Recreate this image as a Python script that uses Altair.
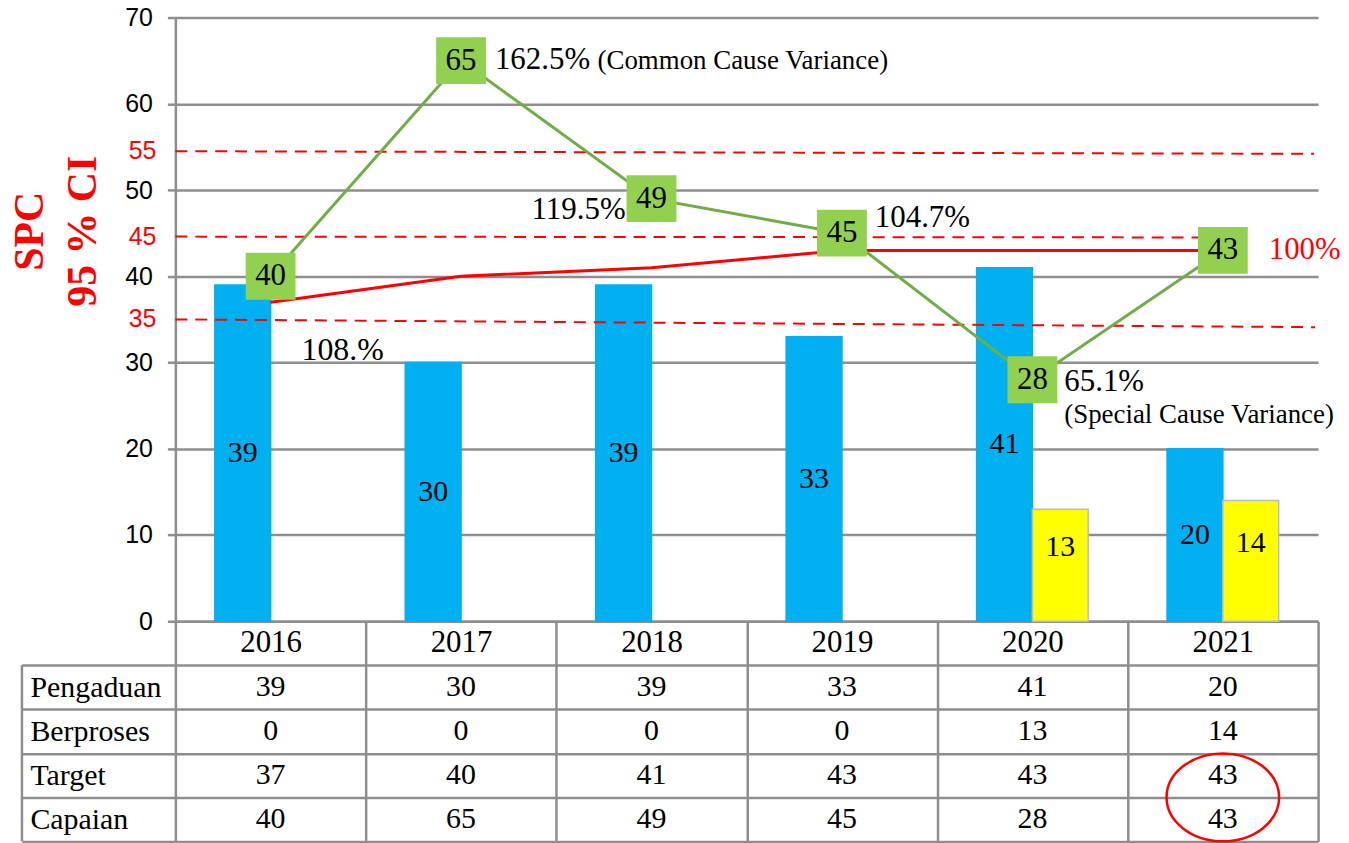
import altair as alt
import pandas as pd

# ---------------- data ----------------
years = ["2016", "2017", "2018", "2019", "2020", "2021"]
pengaduan = [39, 30, 39, 33, 41, 20]
berproses = [0, 0, 0, 0, 13, 14]
target = [37, 40, 41, 43, 43, 43]
capaian = [40, 65, 49, 45, 28, 43]
row_names = ["Pengaduan", "Berproses", "Target", "Capaian"]
pct_labels = ["108.%", "162.5%", "119.5%", "104.7%", "65.1%", "100%"]
note_years = ["2017", "2020"]
note_texts = ["(Common Cause Variance)", "(Special Cause Variance)"]
limit_labels = ["55", "45", "35"]
limit_start = [54.5, 44.6, 35.0]
limit_end = [54.2, 44.5, 34.1]
y_ticks = [0, 10, 20, 30, 40, 50, 60, 70]
circled_year = "2021"
circled_rows = ["Target"]

# ---------------- style ----------------
W, H = 1147, 606
TABLE_H = 177
GRAY = "#8E8E8E"
BLUE = "#00B0F0"
YELLOW = "#FFFF00"
RED = "#FF0000"
GREEN_LINE = "#70AD47"
GREEN_BOX = "#92D050"
SERIF = "Liberation Serif"
SANS = "Liberation Sans"

xscale = alt.Scale(domain=years, paddingInner=0, paddingOuter=0)
yscale = alt.Scale(domain=[0, 70], nice=False, zero=True)

bars_df = pd.DataFrame({
    "year": years * 2,
    "series": ["Pengaduan"] * 6 + ["Berproses"] * 6,
    "value": pengaduan + berproses,
})
bars_df = bars_df[bars_df["value"] > 0]
line_df = pd.DataFrame({"year": years, "target": target, "capaian": capaian,
                        "pct": pct_labels})
limits_df = pd.DataFrame({"label": limit_labels, "start": limit_start, "end": limit_end})
notes_df = pd.DataFrame({"year": note_years, "note": note_texts})
notes_df = notes_df.merge(line_df[["year", "capaian"]], on="year")

xoff = alt.XOffset("series:N", scale=alt.Scale(domain=["Pengaduan", "Berproses"],
                                               paddingInner=0, paddingOuter=0.707))

x_main = alt.X("year:N", scale=xscale, sort=years, axis=alt.Axis(
    title=None, labelAngle=0, labelFont=SERIF, labelFontSize=31, labelColor="black",
    labelBaseline="middle", labelPadding=-23, tickBand="extent", tickSize=44,
    tickColor=GRAY, tickWidth=2.5, domainColor=GRAY, domainWidth=2.5, grid=False))
x_plain = alt.X("year:N", scale=xscale, sort=years)


def yq(field):
    return alt.Y(field, scale=yscale)


bars = alt.Chart(bars_df).mark_bar(strokeWidth=1.5).encode(
    x=x_main,
    xOffset=xoff,
    y=alt.Y("value:Q", scale=yscale, axis=alt.Axis(
        values=y_ticks, title=["SPC", "95 % CI"], titleColor=RED, titleFont=SERIF,
        titleFontSize=42, titleFontWeight="bold", titleAngle=270, titleAlign="center",
        titleBaseline="alphabetic", titleLineHeight=53, titleX=-133, titleY=214,
        labelFont=SANS, labelFontSize=25, labelColor="black", labelPadding=15,
        tickSize=8, tickColor=GRAY, tickWidth=2.5, domainColor=GRAY, domainWidth=2.5,
        gridColor=GRAY, gridWidth=2.5)),
    color=alt.Color("series:N", scale=alt.Scale(domain=["Pengaduan", "Berproses"],
                                                range=[BLUE, YELLOW]), legend=None),
    stroke=alt.Stroke("series:N", scale=alt.Scale(domain=["Pengaduan", "Berproses"],
                                                  range=[BLUE, "#B4BCCB"]), legend=None),
)

bar_lab_blue = alt.Chart(bars_df).transform_filter("datum.series == 'Pengaduan'").transform_calculate(
    mid="datum.value / 2").mark_text(font=SERIF, fontSize=30, color="black", baseline="middle").encode(
    x=x_plain, xOffset=xoff, y=yq("mid:Q"), text="value:Q")
bar_lab_yel = alt.Chart(bars_df).transform_filter("datum.series == 'Berproses'").transform_calculate(
    mid="datum.value / 2").mark_text(font=SERIF, fontSize=30, color="black", baseline="middle",
                                     dy=-18).encode(
    x=x_plain, xOffset=xoff, y=yq("mid:Q"), text="value:Q")

limit_x2 = [1143, 1074, 1144]
limit_layers = []
for i, lab in enumerate(limit_labels):
    limit_layers.append(
        alt.Chart(limits_df).transform_filter(f"datum.label == '{lab}'").mark_rule(
            color=RED, strokeWidth=2, strokeDash=[12, 8]).encode(
            x=alt.value(0), x2=alt.value(limit_x2[i]),
            y=yq("start:Q"), y2="end:Q"))
limit_text = alt.Chart(limits_df).mark_text(font=SANS, fontSize=25, color=RED, align="right",
                                            baseline="middle").encode(
    x=alt.value(-19), y=yq("start:Q"), text="label:N")

target_line = alt.Chart(line_df).mark_line(color=RED, strokeWidth=3).encode(
    x=x_plain, y=yq("target:Q"))
cap_line = alt.Chart(line_df).mark_line(color=GREEN_LINE, strokeWidth=3).encode(
    x=x_plain, y=yq("capaian:Q"))
cap_box = alt.Chart(line_df).mark_point(
    shape="M-1,-0.94L1,-0.94L1,0.94L-1,0.94Z", size=2500, filled=True, color=GREEN_BOX,
    opacity=1, strokeWidth=0).encode(
    x=x_plain, y=yq("capaian:Q"))
cap_text = alt.Chart(line_df).mark_text(font=SERIF, fontSize=31, color="black",
                                        baseline="middle").encode(
    x=x_plain, y=yq("capaian:Q"), text="capaian:Q")

# percentage annotations next to each Capaian point
pct_style = {
    "2016": dict(dx=31, dy=84, align="left", color="black", fontSize=32),
    "2017": dict(dx=34, dy=8, align="left", color="black", fontSize=31),
    "2018": dict(dx=-26, dy=20, align="right", color="black", fontSize=31),
    "2019": dict(dx=33, dy=-6, align="left", color="black", fontSize=31),
    "2020": dict(dx=32, dy=11, align="left", color="black", fontSize=31),
    "2021": dict(dx=46, dy=9, align="left", color=RED, fontSize=31),
}
pct_layers = []
for yr in years:
    st = pct_style[yr]
    pct_layers.append(
        alt.Chart(line_df).transform_filter(f"datum.year == '{yr}'").mark_text(
            font=SERIF, baseline="alphabetic", **st).encode(
            x=x_plain, y=yq("capaian:Q"), text="pct:N"))
note_style = {
    "2017": dict(dx=137, dy=8),
    "2020": dict(dx=32, dy=43),
}
note_layers = []
for yr in note_years:
    st = note_style[yr]
    note_layers.append(
        alt.Chart(notes_df).transform_filter(f"datum.year == '{yr}'").mark_text(
            font=SERIF, fontSize=27, color="black", align="left", baseline="alphabetic",
            **st).encode(
            x=x_plain, y=yq("capaian:Q"), text="note:N"))

main = alt.layer(
    bars, bar_lab_blue, bar_lab_yel, *limit_layers, limit_text, target_line, cap_line,
    cap_box, cap_text, *pct_layers, *note_layers
).properties(width=W, height=H)

# ---------------- data table ----------------
table_df = pd.DataFrame({
    "row": sum([[r] * 6 for r in row_names], []),
    "year": years * 4,
    "value": pengaduan + berproses + target + capaian,
})
x_tab = alt.X("year:N", scale=xscale, sort=years, axis=alt.Axis(
    title=None, labels=False, ticks=False, domain=False, grid=True, tickBand="extent",
    gridColor=GRAY, gridWidth=2.5))
yscale_tab = alt.Scale(domain=row_names, paddingInner=0, paddingOuter=0)
y_tab = alt.Y("row:N", scale=yscale_tab, sort=row_names, axis=alt.Axis(
    title=None, grid=True, tickBand="extent", gridColor=GRAY, gridWidth=2.5,
    tickSize=154, tickColor=GRAY, tickWidth=2.5, labelAlign="left",
    labelPadding=-8, labelFont=SERIF, labelFontSize=30, labelColor="black",
    labelBaseline="middle", domain=False))
tab_text = alt.Chart(table_df).mark_text(font=SERIF, fontSize=30, color="black",
                                         baseline="middle").encode(
    x=x_tab, y=y_tab, text="value:Q")
tab_border = alt.Chart(pd.DataFrame({"b": [0]})).mark_rule(color=GRAY, strokeWidth=2.5).encode(
    x=alt.value(-154), y=alt.value(0), y2=alt.value(TABLE_H))
circle_df = pd.DataFrame({"year": [circled_year], "row": circled_rows})
tab_circle = alt.Chart(circle_df).mark_point(
    shape="M-1,0A1,0.78,0,1,0,1,0A1,0.78,0,1,0,-1,0Z", size=12769, filled=False,
    color=RED, strokeWidth=2.5, opacity=1).encode(
    x=alt.X("year:N", scale=xscale, sort=years),
    y=alt.Y("row:N", scale=yscale_tab, sort=row_names, bandPosition=1))

table = alt.layer(tab_text, tab_border, tab_circle).properties(width=W, height=TABLE_H)

chart = alt.vconcat(main, table, spacing=44, bounds="flush").properties(
    padding={"left": 1, "top": -4, "right": 0, "bottom": 0}
).configure_view(stroke=None)

chart.save("out.html", embed_options={"renderer": "svg", "actions": False})
